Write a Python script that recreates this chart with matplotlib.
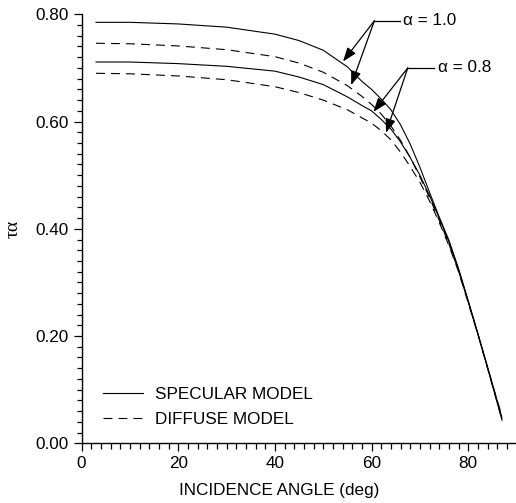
import matplotlib
matplotlib.use('Agg')
import matplotlib.pyplot as plt
from matplotlib.ticker import MultipleLocator, FormatStrFormatter

plt.rcParams['font.family'] = ['Liberation Sans', 'DejaVu Sans']

# incidence angle (deg) and tau-alpha
angles = [3, 10, 20, 30, 40, 45, 50, 55, 58, 60, 62, 64, 66, 68, 70, 72, 74, 76, 78, 80, 82, 84, 87]
spec_a10 = [0.785, 0.785, 0.782, 0.776, 0.763, 0.751, 0.733, 0.702, 0.675, 0.660, 0.642, 0.622,
            0.594, 0.558, 0.515, 0.468, 0.422, 0.379, 0.326, 0.266, 0.205, 0.143, 0.047]
spec_a08 = [0.711, 0.711, 0.708, 0.703, 0.694, 0.683, 0.669, 0.646, 0.630, 0.620, 0.604, 0.586,
            0.562, 0.533, 0.500, 0.462, 0.420, 0.376, 0.324, 0.265, 0.204, 0.141, 0.043]
diff_a10 = [0.746, 0.745, 0.741, 0.734, 0.721, 0.709, 0.692, 0.667, 0.647, 0.632, 0.614, 0.592,
            0.565, 0.533, 0.497, 0.458, 0.416, 0.372, 0.322, 0.264, 0.204, 0.141, 0.050]
diff_a08 = [0.690, 0.689, 0.685, 0.678, 0.665, 0.654, 0.640, 0.622, 0.607, 0.597, 0.583, 0.566,
            0.543, 0.516, 0.487, 0.452, 0.412, 0.369, 0.320, 0.262, 0.203, 0.140, 0.045]

fig = plt.figure(figsize=(5.16, 5.03), dpi=100)
ax = fig.add_axes([0.158, 0.1187, 0.843, 0.8529])

dash = (0, (8, 5.5))
ax.plot(angles, spec_a10, color='k', lw=0.8, label='SPECULAR MODEL')
ax.plot(angles, spec_a08, color='k', lw=0.8)
ax.plot(angles, diff_a10, color='k', lw=0.8, linestyle=dash, label='DIFFUSE MODEL')
ax.plot(angles, diff_a08, color='k', lw=0.8, linestyle=dash)

# callouts: horizontal leader + two arrows each
arrow = dict(arrowstyle='-|>,head_length=0.6,head_width=0.22', color='k', lw=0.9,
             shrinkA=0, shrinkB=0, mutation_scale=14)
callouts = [
    ('\u03b1 = 1.0', (60.6, 0.788), (65.8, 0.788), [(54.1, 0.712), (55.8, 0.668)]),
    ('\u03b1 = 0.8', (67.5, 0.700), (73.0, 0.700), [(60.4, 0.618), (63.0, 0.579)]),
]
for label, start, end, tips in callouts:
    ax.plot([start[0], end[0]], [start[1], end[1]], color='k', lw=0.9)
    ax.text(end[0] + 0.7, end[1], label, fontsize=12.3, va='center', ha='left')
    for tip in tips:
        ax.annotate('', xy=tip, xytext=start, arrowprops=arrow)

ax.set_xlim(0, 90)
ax.set_ylim(0, 0.80)
ax.xaxis.set_major_locator(MultipleLocator(20))
ax.xaxis.set_minor_locator(MultipleLocator(2))
ax.yaxis.set_major_locator(MultipleLocator(0.2))
ax.yaxis.set_minor_locator(MultipleLocator(0.02))
ax.yaxis.set_major_formatter(FormatStrFormatter('%.2f'))

for side in ['top', 'right']:
    ax.spines[side].set_visible(False)
for side in ['left', 'bottom']:
    ax.spines[side].set_linewidth(1.0)

ax.tick_params(axis='both', which='both', direction='out', labelsize=12.3, width=0.9)
ax.tick_params(axis='x', which='major', length=6, pad=3)
ax.tick_params(axis='x', which='minor', length=4)
ax.tick_params(axis='y', which='major', length=6, pad=3)
ax.tick_params(axis='y', which='minor', length=3.5)

ax.set_xlabel('INCIDENCE ANGLE (deg)', fontsize=12.3)
ax.xaxis.set_label_coords(0.454, -0.093)
ax.set_ylabel('\u03c4\u03b1', fontsize=14, family=['Liberation Serif', 'DejaVu Serif'])
ax.yaxis.set_label_coords(-0.138, 0.5)

ax.legend(loc='lower left', bbox_to_anchor=(0.05, 0.037), frameon=False, fontsize=12.3,
          handlelength=2.3, handletextpad=0.75, labelspacing=0.62,
          borderaxespad=0, borderpad=0)

fig.savefig('out.png', dpi=100)
